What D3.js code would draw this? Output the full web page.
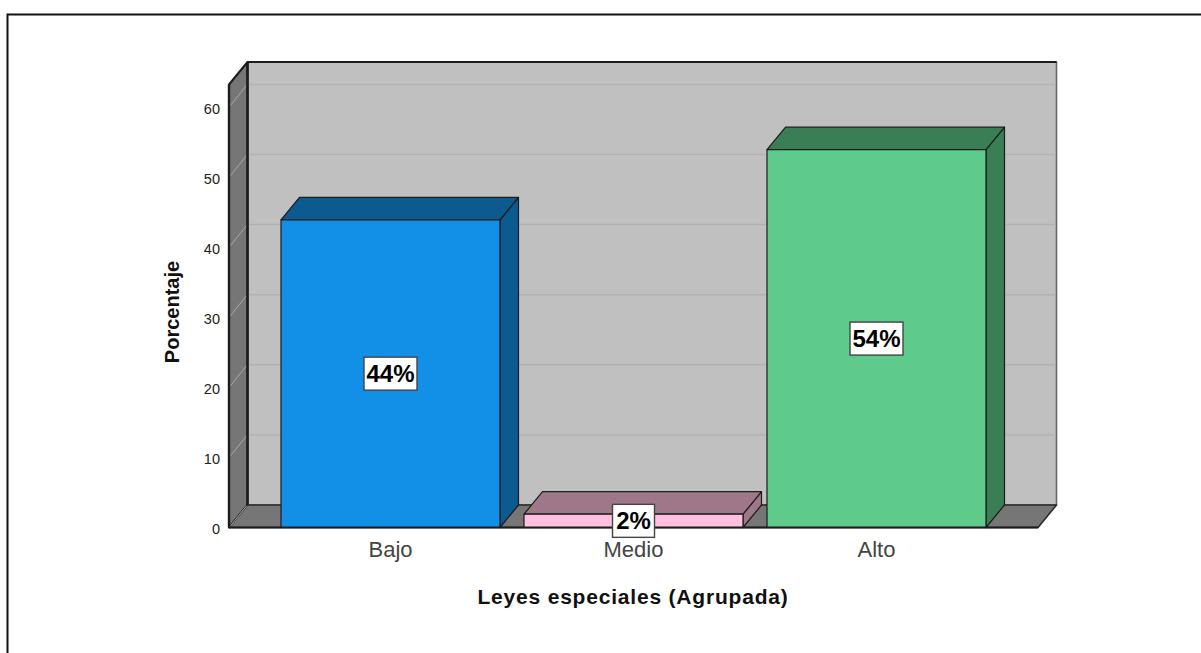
<!DOCTYPE html>
<html>
  <head>
    <meta charset="utf-8">
    <title>Leyes especiales (Agrupada)</title>
    <style>
      html, body { margin: 0; padding: 0; background: #fff; }
      svg { display: block; }
      text { font-family: "Liberation Sans", Arial, sans-serif; }
    </style>
  </head>
  <body>
    <script src="https://d3js.org/d3.v7.min.js"></script>
    <script>
      const categories = ["Bajo", "Medio", "Alto"];
      const percentages = [43.9, 1.9, 53.9];
      const barLabels = ["44%", "2%", "54%"];
      const frontColors = ["#1290e8", "#ffc0e0", "#5ecb8c"];
      const topColors = ["#0b5a90", "#9e7888", "#3a7e56"];
      const yTicks = [0, 10, 20, 30, 40, 50, 60];

      const width = 1201;
      const height = 653;
      const line = "#1c1c1c";

      // depth offset of the fake 3D box
      const depthX = 18.5;
      const depthY = 22.5;

      const x = d3.scaleBand()
        .domain(categories)
        .range([229, 1038])
        .paddingInner(0.0988)
        .paddingOuter(0.214);

      const y = d3.scaleLinear()
        .domain([0, 63.2])
        .range([527.5, 84.5]);

      const svg = d3.select("body").append("svg")
        .attr("width", width)
        .attr("height", height)
        .attr("viewBox", [0, 0, width, height]);

      // outer frame, only top and left are in the picture
      svg.append("path")
        .attr("d", "M7.5,653V14.5H1201")
        .attr("fill", "none")
        .attr("stroke", "#111")
        .attr("stroke-width", 2);

      const left = x.range()[0];
      const right = x.range()[1];
      const y0 = y(0);
      const yTop = y(y.domain()[1]);

      const poly = (pts, fill, stroke, sw) => svg.append("polygon")
        .attr("points", pts.map(p => p.join(",")).join(" "))
        .attr("fill", fill)
        .attr("stroke", stroke)
        .attr("stroke-width", sw)
        .attr("stroke-linejoin", "round");

      // back wall
      poly([[left + depthX, yTop - depthY], [right + depthX, yTop - depthY],
            [right + depthX, y0 - depthY], [left + depthX, y0 - depthY]], "#c0c0c0", "#666", 1.6);
      // side wall
      poly([[left, yTop], [left + depthX, yTop - depthY],
            [left + depthX, y0 - depthY], [left, y0]], "#767676", "#1c1c1c", 2);
      // floor
      poly([[left, y0], [left + depthX, y0 - depthY],
            [right + depthX, y0 - depthY], [right, y0]], "#767676", "#2a2a2a", 1.6);

      // gridlines on the back wall and side wall
      const grid = svg.append("g");
      grid.selectAll("line.back")
        .data(yTicks.slice(1))
        .enter()
        .append("line")
          .attr("class", "back")
          .attr("x1", left + depthX + 1)
          .attr("x2", right + depthX - 1)
          .attr("y1", d => y(d) - depthY)
          .attr("y2", d => y(d) - depthY)
          .attr("stroke", "#b2b2b2")
          .attr("stroke-width", 1.5);
      grid.selectAll("line.side")
        .data(yTicks)
        .enter()
        .append("line")
          .attr("class", "side")
          .attr("x1", left + 1)
          .attr("x2", left + depthX - 1)
          .attr("y1", d => y(d) - 1)
          .attr("y2", d => y(d) - depthY + 1)
          .attr("stroke", "#a8a8a8")
          .attr("stroke-width", 1);

      // redraw wall edges over the grid ends
      svg.append("line")
        .attr("x1", left + depthX).attr("x2", left + depthX)
        .attr("y1", yTop - depthY).attr("y2", y0 - depthY)
        .attr("stroke", line).attr("stroke-width", 2.4);
      svg.append("line")
        .attr("x1", left).attr("x2", left)
        .attr("y1", yTop).attr("y2", y0)
        .attr("stroke", line).attr("stroke-width", 2.4);
      svg.append("line")
        .attr("x1", left + depthX).attr("x2", right + depthX)
        .attr("y1", yTop - depthY).attr("y2", yTop - depthY)
        .attr("stroke", line).attr("stroke-width", 1.8);

      // bars
      categories.forEach((c, i) => {
        const bx = x(c);
        const bw = x.bandwidth();
        const by = y(percentages[i]);
        poly([[bx + bw, by], [bx + bw + depthX, by - depthY],
              [bx + bw + depthX, y0 - depthY], [bx + bw, y0]], topColors[i], line, 1.2);
        poly([[bx, by], [bx + depthX, by - depthY],
              [bx + bw + depthX, by - depthY], [bx + bw, by]], topColors[i], line, 1.2);
        poly([[bx, by], [bx + bw, by], [bx + bw, y0], [bx, y0]], frontColors[i], line, 1.2);
      });

      // front baseline
      svg.append("line")
        .attr("x1", left).attr("x2", right)
        .attr("y1", y0).attr("y2", y0)
        .attr("stroke", line).attr("stroke-width", 1.8);

      // value labels in white boxes
      const labels = svg.append("g")
        .selectAll("g")
        .data(categories)
        .enter()
        .append("g")
          .attr("transform", (c, i) =>
            "translate(" + (x(c) + x.bandwidth() / 2) + "," + ((y(percentages[i]) + y0) / 2) + ")");
      labels.append("rect")
        .attr("x", (c, i) => i === 1 ? -21 : -26.5)
        .attr("y", -16.5)
        .attr("width", (c, i) => i === 1 ? 42 : 53)
        .attr("height", 33)
        .attr("fill", "#fff")
        .attr("stroke", "#444")
        .attr("stroke-width", 1.4);
      labels.append("text")
        .text((c, i) => barLabels[i])
        .attr("text-anchor", "middle")
        .attr("y", 8.5)
        .attr("font-size", 24)
        .attr("font-weight", "bold")
        .attr("fill", "#000");

      // y axis
      const yAxis = d3.axisLeft(y).tickValues(yTicks).tickSize(0).tickPadding(9);
      const yG = svg.append("g")
        .attr("transform", "translate(" + left + ",1.5)")
        .call(yAxis);
      yG.select(".domain").remove();
      yG.selectAll("text")
        .attr("font-size", 14.5)
        .attr("fill", "#222")
        .style("font-family", "'Liberation Sans', Arial, sans-serif");

      // x axis
      const xAxis = d3.axisBottom(x).tickSize(0).tickPadding(14);
      const xG = svg.append("g")
        .attr("transform", "translate(0," + y0 + ")")
        .call(xAxis);
      xG.select(".domain").remove();
      xG.selectAll("text")
        .attr("font-size", 22)
        .attr("fill", "#444")
        .style("font-family", "'Liberation Sans', Arial, sans-serif");

      // axis titles
      svg.append("text")
        .text("Leyes especiales (Agrupada)")
        .attr("x", 633)
        .attr("y", 604)
        .attr("text-anchor", "middle")
        .attr("font-size", 21)
        .attr("letter-spacing", 0.8)
        .attr("font-weight", "bold")
        .attr("fill", "#111");
      svg.append("text")
        .text("Porcentaje")
        .attr("transform", "translate(179,312) rotate(-90)")
        .attr("text-anchor", "middle")
        .attr("font-size", 20)
        .attr("font-weight", "bold")
        .attr("fill", "#111");
    </script>
  </body>
</html>
